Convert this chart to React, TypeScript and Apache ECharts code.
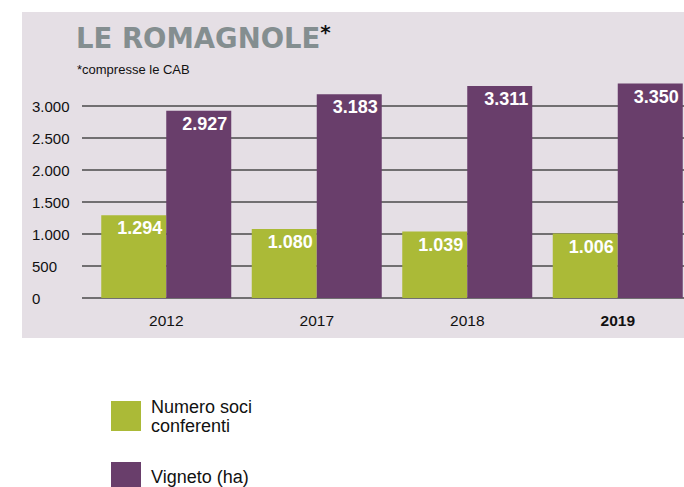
import React, { useEffect, useRef } from "react";
import * as echarts from "echarts";

const categories = ["2012", "2017", "2018", "2019"];
const sociConferenti = [1294, 1080, 1039, 1006];
const vignetoHa = [2927, 3183, 3311, 3350];
const seriesNames = ["Numero soci conferenti", "Vigneto (ha)"];

const SANS = "'Liberation Sans', Arial, sans-serif";
const fmt = (v: number) => String(v).replace(/\B(?=(\d{3})+(?!\d))/g, ".");

export default function App() {
  const ref = useRef<HTMLDivElement>(null);
  useEffect(() => {
    if (!ref.current) return;
    const chart = echarts.init(ref.current, undefined, { renderer: "svg" });
    const barLabel = {
      show: true,
      position: "insideTopRight",
      distance: 4,
      color: "#ffffff",
      fontFamily: SANS,
      fontWeight: "bold",
      fontSize: 18,
      formatter: (p: any) => fmt(p.value),
    };
    const legendText = { fontFamily: SANS, fontSize: 18, lineHeight: 19, color: "#111", padding: [0, 0, 0, 5] };
    chart.setOption({
      animation: false,
      backgroundColor: "#ffffff",
      graphic: [
        {
          type: "rect",
          z: -10,
          shape: { x: 22, y: 12, width: 700, height: 326 },
          style: { fill: "#e5dfe5" },
        },
      ],
      title: [
        {
          text: "{t|LE ROMAGNOLE}{s|*}",
          left: 71,
          top: 17,
          textStyle: {
            rich: {
              t: { fontFamily: "'DejaVu Sans', sans-serif", fontWeight: "bold", fontSize: 27.5, color: "#848e90" },
              s: { fontFamily: "'DejaVu Sans', sans-serif", fontWeight: "bold", fontSize: 20, color: "#111", verticalAlign: "top", padding: [0, 0, 12, 0] },
            },
          },
        },
        {
          text: "*compresse le CAB",
          left: 72,
          top: 58,
          textStyle: { fontFamily: SANS, fontWeight: "normal", fontSize: 13, color: "#111" },
        },
      ],
      legend: [
        {
          orient: "vertical",
          left: 106,
          top: 392,
          itemWidth: 30,
          itemHeight: 30,
          icon: "rect",
          data: [seriesNames[0]],
          formatter: () => "Numero soci\nconferenti",
          textStyle: legendText,
        },
        {
          orient: "vertical",
          left: 106,
          top: 457,
          itemWidth: 30,
          itemHeight: 29,
          icon: "rect",
          data: [seriesNames[1]],
          textStyle: legendText,
        },
      ],
      grid: { left: 91, right: 7, top: 106, bottom: 189, containLabel: false },
      xAxis: {
        type: "category",
        data: categories,
        axisLine: { show: false },
        axisTick: { show: false },
        axisLabel: {
          margin: 14,
          fontFamily: SANS,
          fontSize: 15.5,
          color: "#111",
          formatter: (v: string) => (v === "2019" ? "{b|" + v + "}" : v),
          rich: { b: { fontFamily: SANS, fontSize: 15.5, fontWeight: "bold", color: "#111" } },
        },
      },
      yAxis: {
        type: "value",
        min: 0,
        max: 3000,
        interval: 500,
        axisLine: { show: false },
        axisTick: { show: true, length: 9, lineStyle: { color: "#4a4a4a", width: 1.5 } },
        splitLine: { show: true, lineStyle: { color: "#4a4a4a", width: 1.5 } },
        axisLabel: {
          align: "left",
          margin: 59,
          fontFamily: SANS,
          fontSize: 15,
          color: "#111",
          formatter: (v: number) => fmt(v),
        },
      },
      series: [
        {
          name: seriesNames[0],
          type: "bar",
          data: sociConferenti,
          barWidth: 65,
          barGap: "0%",
          clip: false,
          itemStyle: { color: "#abba37" },
          label: barLabel,
        },
        {
          name: seriesNames[1],
          type: "bar",
          data: vignetoHa,
          barWidth: 65,
          barGap: "0%",
          clip: false,
          itemStyle: { color: "#693e6b" },
          label: barLabel,
        },
      ],
    });
    return () => chart.dispose();
  }, []);
  return (
    <div style={{ position: "fixed", left: 0, top: 0, width: 684, height: 487, overflow: "hidden" }}>
      <div ref={ref} style={{ width: 700, height: 487 }} />
    </div>
  );
}
